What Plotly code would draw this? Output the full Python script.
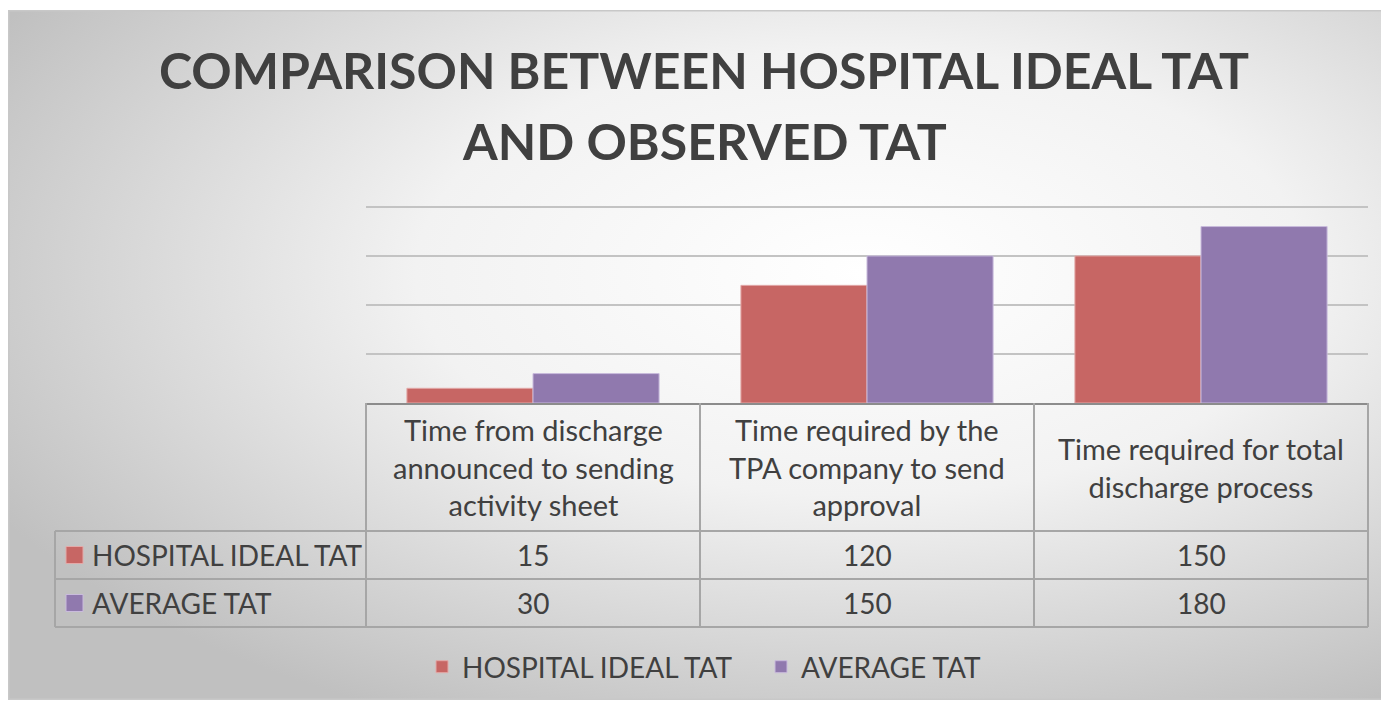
"""Hospital ideal TAT vs observed TAT - Excel style clustered column with data table."""
import base64

import plotly.graph_objects as go

# ---- data -------------------------------------------------------------
categories = ['Time from discharge announced to sending activity sheet',
              'Time required by the TPA company to send approval',
              'Time required for total discharge process']
category_labels = ['Time from discharge<br>announced to sending<br>activity sheet',
                   'Time required by the<br>TPA company to send<br>approval',
                   'Time required for total<br>discharge process']
series_names = ['HOSPITAL IDEAL TAT', 'AVERAGE TAT']
ideal_tat = [15, 120, 150]
average_tat = [30, 150, 180]
title_lines = ['COMPARISON BETWEEN HOSPITAL IDEAL TAT', 'AND OBSERVED TAT']

# ---- style -----------------------------------------------------------
# the page body has an 8px margin, so the figure starts at (8, 8) on screen
OFF = 8
W, H = 1389 - OFF, 703 - OFF
# plot area, in screen pixels (y range 0..203 -> 0.98 px per unit)
PLOT_L, PLOT_R, PLOT_T, PLOT_B = 366, 1368, 204, 403
FONT = 'Lato'
TEXT_COLOR = '#404040'
BORDER = '#a6a6a6'
colors = ['#c76664', '#9079ae']
edge_colors = ['#e3a9a8', '#c9bbdc']
PH = PLOT_B - PLOT_T


def px_x(px):
    """screen pixel x -> paper x"""
    return (px - PLOT_L) / (PLOT_R - PLOT_L)


def px_y(py):
    """screen pixel y -> paper y"""
    return (PLOT_B - py) / PH


# radial gray gradient behind the whole chart (like the Excel chart area)
svg = ('<svg xmlns="http://www.w3.org/2000/svg" width="1377" height="690" '
       'preserveAspectRatio="none" viewBox="0 0 1377 690">'
       '<defs><radialGradient id="g" cx="0.62" cy="0.38" r="0.72">'
       '<stop offset="0" stop-color="#ffffff"/>'
       '<stop offset="0.45" stop-color="#f2f2f2"/>'
       '<stop offset="1" stop-color="#c0c0c0"/>'
       '</radialGradient></defs>'
       '<rect width="1377" height="690" fill="url(#g)" stroke="#c8c8c8" stroke-width="3"/></svg>')
bg_src = 'data:image/svg+xml;base64,' + base64.b64encode(svg.encode()).decode()

fig = go.Figure()
for name, vals, col, edge in zip(series_names, [ideal_tat, average_tat], colors, edge_colors):
    fig.add_trace(go.Bar(x=categories, y=vals, name=name,
                         marker=dict(color=col, line=dict(color=edge, width=1))))

# ---- data table drawn under the plot --------------------------------
row_lines = [531, 579, 627]
col_edges = [0, 1 / 3, 2 / 3, 1]
left_edge = px_x(55)
shapes = []
line = dict(color=BORDER, width=2)
for py in row_lines:
    shapes.append(dict(type='line', xref='paper', yref='paper', x0=left_edge, x1=1,
                       y0=px_y(py), y1=px_y(py), line=line))
for xe in col_edges:
    shapes.append(dict(type='line', xref='paper', yref='paper', x0=xe, x1=xe,
                       y0=0, y1=px_y(627), line=line))
shapes.append(dict(type='line', xref='paper', yref='paper', x0=left_edge, x1=left_edge,
                   y0=px_y(531), y1=px_y(627), line=line))

annotations = []
# two-line title, one annotation per line so the line spacing matches
for text, yc in zip(title_lines, [70, 141]):
    annotations.append(dict(xref='paper', yref='paper', x=px_x(704), y=px_y(yc),
                            xanchor='center', yanchor='middle', showarrow=False,
                            text=f'<b>{text}</b>',
                            font=dict(size=50, color=TEXT_COLOR, family=FONT)))

for i, lab in enumerate(category_labels):
    annotations.append(dict(xref='paper', yref='paper', x=(i + 0.5) / 3, y=px_y(467),
                            xanchor='center', yanchor='middle',
                            text=lab, showarrow=False, align='center',
                            font=dict(size=29, color=TEXT_COLOR, family=FONT)))

row_centers = [555, 603]
for r, (name, vals, col, edge) in enumerate(zip(series_names, [ideal_tat, average_tat], colors, edge_colors)):
    yc = px_y(row_centers[r])
    # legend key square in the table
    shapes.append(dict(type='rect', xref='paper', yref='paper',
                       x0=px_x(66), x1=px_x(83), y0=yc - 8.5 / PH, y1=yc + 8.5 / PH,
                       fillcolor=col, line=dict(color=edge, width=1)))
    annotations.append(dict(xref='paper', yref='paper', x=px_x(90), y=yc,
                            xanchor='left', yanchor='middle',
                            text=name, showarrow=False,
                            font=dict(size=28, color=TEXT_COLOR, family=FONT)))
    for i, v in enumerate(vals):
        annotations.append(dict(xref='paper', yref='paper', x=(i + 0.5) / 3, y=yc,
                                xanchor='center', yanchor='middle',
                                text=str(v), showarrow=False,
                                font=dict(size=28, color=TEXT_COLOR, family=FONT)))

fig.update_layout(
    width=W, height=H,
    margin=dict(l=PLOT_L - OFF, r=W - (PLOT_R - OFF), t=PLOT_T - OFF, b=H - (PLOT_B - OFF), pad=0),
    paper_bgcolor='white', plot_bgcolor='rgba(0,0,0,0)',
    barmode='group', bargap=0.245, bargroupgap=0,
    legend=dict(orientation='h', xanchor='left', yanchor='middle',
                x=px_x(422), y=px_y(667), bgcolor='rgba(0,0,0,0)',
                font=dict(size=28, color=TEXT_COLOR, family=FONT),
                itemwidth=30, traceorder='normal',
                entrywidth=294, entrywidthmode='pixels'),
    shapes=shapes,
    annotations=annotations,
    images=[dict(source=bg_src, xref='paper', yref='paper', x=px_x(8), y=px_y(10),
                 sizex=(1385 - 8) / (PLOT_R - PLOT_L), sizey=(700 - 10) / PH,
                 sizing='stretch', layer='below', xanchor='left', yanchor='top')],
    font=dict(family=FONT, color=TEXT_COLOR),
)
fig.update_xaxes(showticklabels=False, showline=True, linecolor='#8c8c8c', linewidth=2,
                 showgrid=False, ticks='')
fig.update_yaxes(range=[0, 203], tickvals=[50, 100, 150, 200], showticklabels=False,
                 showgrid=True, gridcolor='#c3c3c3', gridwidth=1.5, zeroline=False,
                 showline=False)

fig.write_html("out.html")
